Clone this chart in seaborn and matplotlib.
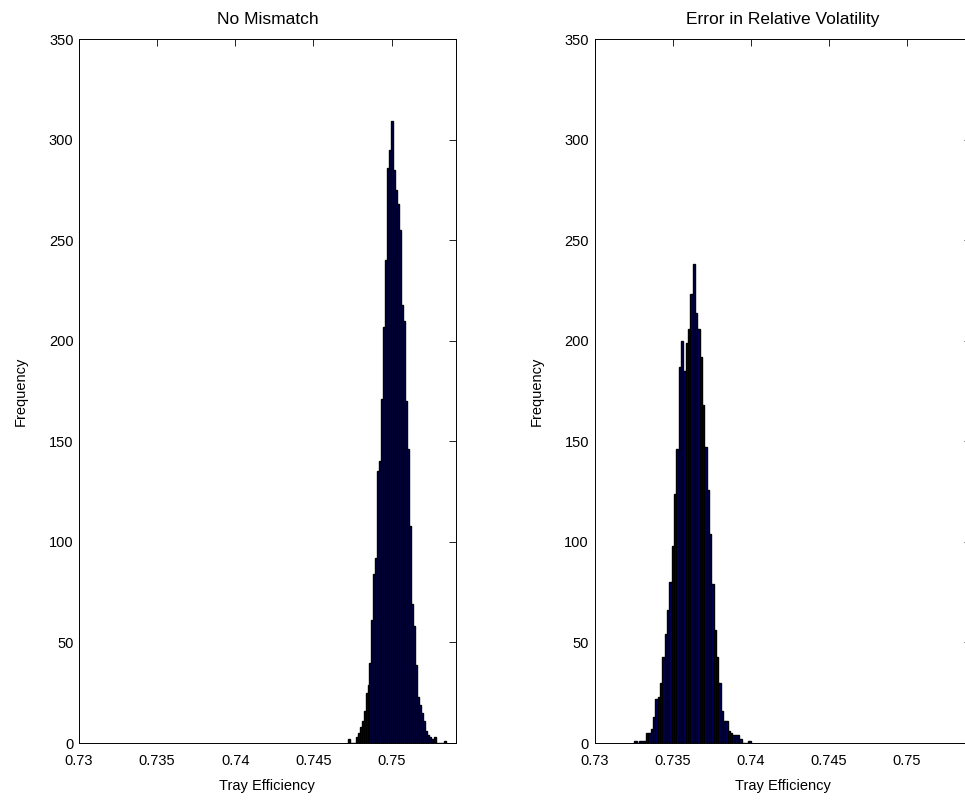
import numpy as np
import pandas as pd
import matplotlib
matplotlib.use("Agg")
import matplotlib.pyplot as plt
from matplotlib.ticker import FuncFormatter
import seaborn as sns

# histogram counts (50 bins each)
titles = ["No Mismatch", "Error in Relative Volatility"]

left_range = (0.74720, 0.75350)
left_counts = [2, 0, 0, 0, 3, 5, 8, 11, 16, 25, 29, 40, 61, 84, 92, 135, 140, 171, 207,
               240, 286, 295, 309, 285, 275, 268, 255, 218, 210, 170, 146, 108, 69, 58,
               39, 23, 19, 15, 11, 6, 4, 3, 2, 1, 3, 0, 0, 0, 0, 1]

right_range = (0.73255, 0.74000)
right_counts = [1, 0, 1, 1, 1, 5, 5, 7, 13, 22, 23, 30, 43, 54, 66, 80, 98, 124, 146,
                187, 200, 185, 199, 206, 223, 238, 214, 206, 192, 168, 147, 126, 104, 79,
                56, 43, 30, 16, 11, 11, 6, 5, 4, 4, 4, 2, 0, 0, 0, 1]

xticks = [0.73, 0.735, 0.74, 0.745, 0.75]
yticks = [0, 50, 100, 150, 200, 250, 300, 350]

sns.set_style("white")
plt.rcParams["font.family"] = ["Liberation Sans", "DejaVu Sans"]
plt.rcParams["text.color"] = "black"
plt.rcParams["axes.labelcolor"] = "black"

fig = plt.figure(figsize=(9.65, 8.01), dpi=100)
ax1 = fig.add_axes([0.0819, 0.0724, 0.3903, 0.8789])
ax2 = fig.add_axes([0.6161, 0.0724, 0.3903, 0.8789])

for ax, title, rng, counts in [(ax1, titles[0], left_range, left_counts),
                               (ax2, titles[1], right_range, right_counts)]:
    nb = len(counts)
    width = (rng[1] - rng[0]) / nb
    df = pd.DataFrame({"eff": rng[0] + width * (np.arange(nb) + 0.5), "n": counts})
    sns.histplot(data=df, x="eff", weights="n", bins=nb, binrange=rng, ax=ax,
                 color="#000068", edgecolor="black", linewidth=1.0, alpha=1)
    ax.set_xlim(0.73, 0.7541)
    ax.set_ylim(0, 350)
    ax.set_xticks(xticks)
    ax.set_yticks(yticks)
    ax.xaxis.set_major_formatter(FuncFormatter(lambda v, p: f"{v:g}"))
    ax.tick_params(direction="in", length=5, width=0.6, top=True, right=True,
                   labelsize=10.5, colors="black", pad=4)
    ax.tick_params(axis="x", pad=8)
    for s in ax.spines.values():
        s.set_visible(True)
        s.set_color("black")
        s.set_linewidth(0.7)
    ax.set_title(title, fontsize=12.5, pad=11, color="black")
    ax.set_xlabel("Tray Efficiency", fontsize=10.5, labelpad=8)
    ax.set_ylabel("Frequency", fontsize=10.5, labelpad=15)
    ax.grid(False)

fig.savefig("out.png", dpi=100)
